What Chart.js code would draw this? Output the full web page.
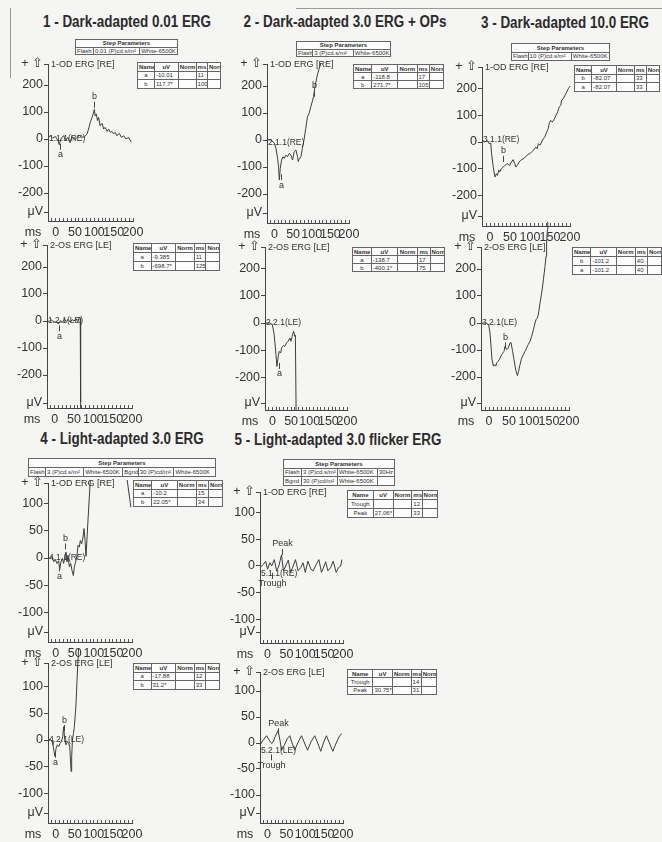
<!DOCTYPE html>
<html>
<head>
<meta charset="utf-8">
<title>ERG report</title>
<script src="https://cdn.jsdelivr.net/npm/chart.js@4.4.1/dist/chart.umd.min.js"></script>
<style>
  html, body { margin: 0; padding: 0; }
  body { width: 662px; height: 842px; position: relative; overflow: hidden; background: #f5f5f3;
         font-family: "Liberation Sans", Arial, sans-serif; color: #2b2b2b; }
  .title { position: absolute; font-weight: bold; font-size: 16px; white-space: nowrap;
           transform: translate(-50%, -50%) scaleX(0.84); }
  .tbl { position: absolute; border-collapse: collapse; table-layout: fixed; background: #fcfcfc; }
  .tbl td { border: 1px solid #666; font-size: 6px; line-height: 6px; padding: 0 1px;
            white-space: nowrap; overflow: hidden; color: #333; }
  .tbl td.h { font-weight: bold; text-align: center; }
  .tbl td.c { text-align: center; }
  canvas { position: absolute; }
  .edge { position: absolute; background: #9a9a9a; }
</style>
</head>
<body>
<script>
const FONT = '"Liberation Sans", Arial, sans-serif';

// x axis: ms
const xMinor = [-20, -10, 0, 10, 20, 30, 40, 50, 60, 70, 80, 90, 100, 110, 120, 130, 140, 150, 160, 170, 180, 190, 200];
const xTicks = [0, 50, 100, 150, 200];
// y axis: uV
const darkTicks = [-200, -100, 0, 100, 200];
const lightTicks = [-100, -50, 0, 50, 100];

// 1 - Dark-adapted 0.01
const od1Ms = [-20, -14, -8, -1, 6, 9, 14.5, 20.5, 25, 31, 37, 42, 49, 55, 61, 68, 75, 81, 85, 89.5, 94, 97, 100, 102, 105, 108, 111, 115, 120, 124, 128, 133, 137, 141, 145.5, 150, 154, 158, 164.5, 170, 176, 182, 188.6, 195.5];
const od1Uv = [6, 12, 4, 9, -6, -21, 4, 12, -6, 6, -12, 9, -4, 6, 14, 6, 9, 19, 37, 62, 80, 93, 110, 86, 93, 68, 80, 49, 58, 37, 43, 28, 37, 25, 28, 19, 25, 12, 21, 6, 12, 0, 6, -12];
const os1Ms = [-20, -15, -10, -5, 0, 5, 8, 11, 15, 20, 25, 30, 35, 40, 45, 50, 55, 60, 64, 66, 67, 68, 80, 100, 125, 150, 200];
const os1Uv = [3, -2, 5, 0, -4, -3, -10, -9, 2, -5, 8, -2, 6, -4, 5, 0, 8, -3, 15, 10, -300, -690, -700, -700, -699, -700, -700];

// 2 - Dark-adapted 3.0 + OPs
const od2Ms = [-20, -9, 0, 4, 8.5, 11, 13, 15.6, 19, 23, 26, 31, 35, 40, 44, 48.6, 53, 57.5, 62, 63.7, 66, 71, 75, 80, 84, 88.6, 93, 97.5, 102, 104.7, 109, 115, 120, 124, 130, 140, 160, 200];
const od2Uv = [2, 0, -12, -31, -68, -99, -148, -105, -74, -62, -68, -56, -62, -49, -56, -74, -43, -37, -62, -80, -72, -62, -31, 6, 43, 86, 99, 123, 145, 160, 200, 240, 265, 281, 320, 360, 380, 350];
const os2Ms = [-20, -6.6, -0.4, 4, 6.7, 9.4, 12, 15.6, 18, 22, 24.5, 29, 33, 38, 42, 47, 49.5, 53, 56.6, 60, 61.5, 64, 80, 120, 200];
const os2Uv = [0, 0, -6, -37, -73, -116, -159, -122, -104, -110, -91, -83, -85, -73, -67, -55, -67, -49, -30, -49, -45, -400, -400, -400, -400];

// 3 - Dark-adapted 10.0
const od3Ms = [-20, -13, -7.4, -2.4, 1.8, 4, 7.6, 10, 12.6, 16, 18.5, 22, 24.4, 28.5, 32.7, 37, 41, 45, 49, 53.6, 57.8, 62, 64.5, 68, 73, 79, 84.6, 89.6, 95.5, 99.7, 104, 110, 114.7, 118, 121, 125, 129, 133, 137, 141.5, 145.7, 148, 151.5, 155.7, 160, 165, 169, 173, 176.7, 179, 183, 187.5, 191.7, 196, 200];
const od3Uv = [6, 0, 6, -6, -4, -44, -88, -112, -131, -119, -125, -106, -112, -100, -94, -88, -84, -81, -88, -75, -66, -81, -94, -88, -75, -66, -62, -54, -46, -44, -37, -29, -19, -25, -6, -12, 0, 12, 19, 37, 50, 69, 81, 75, 84, 100, 112, 131, 137, 156, 162, 175, 187, 200, 209];
const os3Ms = [-20, -11.7, -6, -0.8, 2.5, 5, 7.5, 11, 13, 16.7, 19, 23, 27.5, 31.7, 37.5, 40, 44, 48, 52.5, 55, 59, 62.5, 66.7, 71, 74, 77.5, 81.7, 86, 90, 94, 98, 102.5, 106.7, 111, 115, 117.5, 121, 124, 127.5, 131.7, 136, 140, 142.5, 144, 146, 147, 150, 170, 200];
const os3Uv = [0, 0, -2, -6, -37, -86, -136, -160, -154, -160, -148, -142, -130, -117, -105, -86, -99, -93, -74, -72, -105, -136, -173, -195, -179, -154, -130, -117, -105, -93, -80, -68, -49, -25, 0, 12, 19, 37, 74, 111, 160, 210, 247, 296, 346, 383, 450, 500, 500];

// 4 - Light-adapted 3.0
const od4Ms = [-20, -14, -9.5, -5, -0.8, 3.6, 8, 10.6, 14, 17.6, 21, 23.7, 27.2, 29.8, 32.4, 35.9, 39.4, 42.9, 46.4, 49, 52.5, 56, 58.6, 62, 64.7, 68.2, 71.7, 74.3, 77, 79.6, 85, 91, 100, 120, 150, 180, 187, 197];
const od4Uv = [2, -1, 3, -7, -3, -10, -5, -21, -7, -1, -10, 2, 11, -7, 5, -16, -10, -23, -32, -16, -7, 5, 23, 20, 32, 26, 38, 54, 32, 3, 72, 145, 220, 260, 250, 200, 145, 93];
const os4Ms = [-20, -14, -9.5, -7, -4, -1.6, 1, 4.6, 8, 11.6, 15, 18.6, 21, 24, 27, 31, 34, 37, 39, 40.5, 42, 44, 46.7, 49, 53, 56, 60, 63, 70, 100, 150, 200];
const os4Uv = [0, 1, -2, -9, -22, -31, -16, -9, -12, -6, -3, 6, 25, 0, -9, -3, -6, -12, -40, -59, -31, 0, 12, 25, 62, 112, 169, 225, 300, 300, 300, 300];

// 5 - Light-adapted 3.0 flicker
const od5Ms = [-20, -11, -5, 0, 6, 11, 18, 24, 30, 37, 42, 48, 55, 61, 68, 74, 81, 88, 94, 100, 107, 115, 121, 129, 136, 143, 150, 154, 160, 167, 174, 182, 188, 194, 197];
const od5Uv = [-3, 3, 9, -6, 6, 0, 12, -9, 0, 21, -9, 0, 11, -12, 0, 12, -9, -3, 6, -12, 9, -6, -9, 3, 12, -12, 0, 8, -9, -3, 9, -12, -3, 0, 12];
const os5Ms = [-20, -12, -2.4, 4, 10.8, 15, 20, 28, 33, 37, 44, 52, 59, 65, 72, 80, 90, 98, 106, 115, 125, 133, 141, 148, 156, 164, 173, 182, 191, 197];
const os5Uv = [-4, 5, 14, 6, -1, 2, 12, 24, 5, -14, -5, 8, 14, 0, -14, 0, 14, 0, -14, 2, 14, 0, -16, 0, 14, 0, -16, 0, 14, 18];

// markers: name, ms, uV, side (1 = below, -1 = above)
const od1Marks = [['a', 11, -10, 1], ['b', 100, 108, -1]];
const os1Marks = [['a', 11, -9, 1]];
const od2Marks = [['a', 17, -119, 1], ['b', 105, 153, -1]];
const os2Marks = [['a', 17, -139, 1]];
const od3Marks = [['b', 33, -82, -1]];
const os3Marks = [['b', 40, -101, -1]];
const od4Marks = [['a', 8, -10, 1], ['b', 25, 12, -1]];
const os4Marks = [['a', -1, -18, 1], ['b', 21, 13, -1]];
const od5Marks = [['Trough', 12, -9, 1], ['Peak', 37, 17, -1]];
const os5Marks = [['Trough', 10, -18, 1], ['Peak', 28, 13, -1]];

// tables
const resultHead = ['Name', 'uV', 'Norm', 'ms', 'Norm'];
const od1Rows = [['a', '-10.01', '', '11', ''], ['b', '117.7*', '', '100', '']];
const os1Rows = [['a', '-9.385', '', '11', ''], ['b', '-698.7*', '', '125', '']];
const od2Rows = [['a', '-118.8', '', '17', ''], ['b', '271.7*', '', '105', '']];
const os2Rows = [['a', '-138.7', '', '17', ''], ['b', '-400.1*', '', '75', '']];
const od3Rows = [['b', '-82.07', '', '33', ''], ['a', '-82.07', '', '33', '']];
const os3Rows = [['b', '-101.2', '', '40', ''], ['a', '-101.2', '', '40', '']];
const od4Rows = [['a', '-10.2', '', '15', ''], ['b', '22.05*', '', '34', '']];
const os4Rows = [['a', '-17.88', '', '12', ''], ['b', '31.2*', '', '33', '']];
const od5Rows = [['Trough', '', '', '12', ''], ['Peak', '27.06*', '', '33', '']];
const os5Rows = [['Trough', '', '', '14', ''], ['Peak', '30.75*', '', '31', '']];

const step1 = [['Flash', '0.01 (P)cd.s/m²', 'White-6500K']];
const step2 = [['Flash', '3 (P)cd.s/m²', 'White-6500K']];
const step3 = [['Flash', '10 (P)cd.s/m²', 'White-6500K']];
const step4 = [['Flash', '3 (P)cd.s/m²', 'White-6500K', 'Bgnd', '30 (P)cd/m²', 'White-6500K']];
const step5 = [['Flash', '3 (P)cd.s/m²', 'White-6500K', '30Hz'], ['Bgnd', '30 (P)cd/m²', 'White-6500K', '']];

const titles = [
  ['1 - Dark-adapted 0.01 ERG', 127, 22],
  ['2 - Dark-adapted 3.0 ERG + OPs', 345, 22],
  ['3 - Dark-adapted 10.0 ERG', 565, 23],
  ['4 - Light-adapted 3.0 ERG', 122, 439],
  ['5 - Light-adapted 3.0 flicker ERG', 338, 440]
];

function addTitle(t) {
  const d = document.createElement('div');
  d.className = 'title';
  d.textContent = t[0];
  d.style.left = t[1] + 'px';
  d.style.top = t[2] + 'px';
  document.body.appendChild(d);
}

function addTable(box, colW, head, rows) {
  const t = document.createElement('table');
  t.className = 'tbl';
  t.style.left = box[0] + 'px'; t.style.top = box[1] + 'px';
  t.style.width = box[2] + 'px'; t.style.height = box[3] + 'px';
  const cg = document.createElement('colgroup');
  const sum = colW.reduce((a, b) => a + b, 0);
  colW.forEach(w => {
    const c = document.createElement('col');
    c.style.width = (100 * w / sum) + '%';
    cg.appendChild(c);
  });
  t.appendChild(cg);
  const hr = t.insertRow();
  if (typeof head === 'string') {
    const td = hr.insertCell(); td.colSpan = colW.length; td.className = 'h'; td.textContent = head;
  } else {
    head.forEach(h => { const td = hr.insertCell(); td.className = 'h'; td.textContent = h; });
  }
  rows.forEach(r => {
    const tr = t.insertRow();
    r.forEach((v, k) => {
      const td = tr.insertCell();
      td.textContent = v;
      if (k === 0 && head !== 'Step Parameters') td.className = 'c';
    });
  });
  document.body.appendChild(t);
}

titles.forEach(addTitle);

const resW = [52, 73, 55, 35, 40];
addTable([75, 39, 103, 16], [55, 140, 115], 'Step Parameters', step1);
addTable([296, 41, 95, 16], [50, 125, 115], 'Step Parameters', step2);
addTable([511, 43, 99, 18], [50, 130, 115], 'Step Parameters', step3);
addTable([28, 458, 188, 19], [50, 112, 115, 45, 105, 122], 'Step Parameters', step4);
addTable([283, 459, 112, 27], [18, 36, 40, 17], 'Step Parameters', step5);

addTable([137, 62, 84, 27], resW, resultHead, od1Rows);
addTable([133, 243, 87, 28], resW, resultHead, os1Rows);
addTable([353, 64, 91, 25], resW, resultHead, od2Rows);
addTable([352, 247, 93, 25], resW, resultHead, os2Rows);
addTable([574, 65, 86, 27], resW, resultHead, od3Rows);
addTable([572, 247, 90, 28], resW, resultHead, os3Rows);
addTable([133, 480, 90, 27], resW, resultHead, od4Rows);
addTable([133, 663, 87, 27], resW, resultHead, os4Rows);
addTable([347, 490, 91, 28], [75, 58, 55, 30, 45], resultHead, od5Rows);
addTable([347, 669, 90, 26], [75, 58, 55, 30, 45], resultHead, os5Rows);

// scan edges
[[10, 8, 1, 70], [296, 8, 366, 1]].forEach(e => {
  const d = document.createElement('div');
  d.className = 'edge';
  d.style.left = e[0] + 'px'; d.style.top = e[1] + 'px';
  d.style.width = e[2] + 'px'; d.style.height = e[3] + 'px';
  document.body.appendChild(d);
});

const panels = [
  {ms: od1Ms, uv: od1Uv, marks: od1Marks, ticks: darkTicks, head: '1-OD ERG [RE]', chan: '1.1.1(RE)',
   box: {axisX: 48, w: 85, top: 64, zero: 139, ppu: 0.27, xAxis: 221, uvY: 212, clipTop: 3, chanDy: 0}},
  {ms: os1Ms, uv: os1Uv, marks: os1Marks, ticks: darkTicks, head: '2-OS ERG [LE]', chan: '1.2.1(LE)',
   box: {axisX: 47, w: 85, top: 245, zero: 321, ppu: 0.27, xAxis: 408, uvY: 403, clipTop: 2, chanDy: 0}},
  {ms: od2Ms, uv: od2Uv, marks: od2Marks, ticks: darkTicks, head: '1-OD ERG [RE]', chan: '2.1.1(RE)',
   box: {axisX: 267, w: 82, top: 64, zero: 140, ppu: 0.27, xAxis: 223, uvY: 213, clipTop: 1, chanDy: 3}},
  {ms: os2Ms, uv: os2Uv, marks: os2Marks, ticks: darkTicks, head: '2-OS ERG [LE]', chan: '2.2.1(LE)',
   box: {axisX: 265, w: 82, top: 247, zero: 323, ppu: 0.273, xAxis: 410, uvY: 403, clipTop: 2, chanDy: 0}},
  {ms: od3Ms, uv: od3Uv, marks: od3Marks, ticks: darkTicks, head: '1-OD ERG [RE]', chan: '3.1.1(RE)',
   box: {axisX: 482, w: 88, top: 67, zero: 142, ppu: 0.267, xAxis: 226, uvY: 216, clipTop: 3, chanDy: -2}},
  {ms: os3Ms, uv: os3Uv, marks: os3Marks, ticks: darkTicks, head: '2-OS ERG [LE]', chan: '3.2.1(LE)',
   box: {axisX: 481, w: 88, top: 247, zero: 323, ppu: 0.27, xAxis: 410, uvY: 403, clipTop: 25, chanDy: 0}},
  {ms: od4Ms, uv: od4Uv, marks: od4Marks, ticks: lightTicks, head: '1-OD ERG [RE]', chan: '4.1.1(RE)',
   box: {axisX: 48, w: 84, top: 483, zero: 558, ppu: 0.546, xAxis: 642, uvY: 632, clipTop: 3, chanDy: 0}},
  {ms: os4Ms, uv: os4Uv, marks: os4Marks, ticks: lightTicks, head: '2-OS ERG [LE]', chan: '4.2.1(LE)',
   box: {axisX: 48, w: 84, top: 663, zero: 740, ppu: 0.533, xAxis: 823, uvY: 813, clipTop: 14, chanDy: 0}},
  {ms: od5Ms, uv: od5Uv, marks: od5Marks, ticks: lightTicks, head: '1-OD ERG [RE]', chan: '5.1.1(RE)',
   box: {axisX: 260, w: 83, top: 492, zero: 566, ppu: 0.533, xAxis: 643, uvY: 632, clipTop: 2, chanDy: 8}},
  {ms: os5Ms, uv: os5Uv, marks: os5Marks, ticks: lightTicks, head: '2-OS ERG [LE]', chan: '5.2.1(LE)',
   box: {axisX: 260, w: 83, top: 672, zero: 743, ppu: 0.52, xAxis: 823, uvY: 813, clipTop: 2, chanDy: 8}}
];

function labelPlugin(p) {
  return {
    id: 'ergLabels',
    afterDatasetsDraw(chart) {
      const {ctx, chartArea: a, scales: {x, y}} = chart;
      ctx.save();
      ctx.fillStyle = '#333';
      ctx.strokeStyle = '#444';
      ctx.lineWidth = 1;
      ctx.font = '9px ' + FONT;
      ctx.textBaseline = 'middle';
      ctx.textAlign = 'left';
      ctx.fillText(p.head, a.left + 3, a.top + 1);
      ctx.font = '8.5px ' + FONT;
      ctx.fillText(p.chan, a.left + 1, y.getPixelForValue(0) + p.box.chanDy);
      ctx.textAlign = 'center';
      ctx.font = '9px ' + FONT;
      p.marks.forEach(m => {
        const px = Math.round(x.getPixelForValue(m[1])) + 0.5;
        const py = y.getPixelForValue(m[2]);
        const s = m[3];
        ctx.beginPath();
        ctx.moveTo(px, py + s * 2);
        ctx.lineTo(px, py + s * 8);
        ctx.stroke();
        ctx.fillText(m[0], px, py + s * 13);
      });
      ctx.font = '12.5px ' + FONT;
      ctx.fillText('ms', a.left - 15, a.bottom + 11.5);
      ctx.restore();
    }
  };
}

panels.forEach(p => {
  const b = p.box;
  const yMax = (b.zero - b.top) / b.ppu;
  const yMin = (b.zero - b.xAxis) / b.ppu;
  const uvVal = (b.zero - b.uvY) / b.ppu;
  const padT = 30, padR = 40, yW = 46, xH = 22;
  const cw = yW + b.w + padR, ch = padT + (b.xAxis - b.top) + xH;
  const cv = document.createElement('canvas');
  cv.width = cw; cv.height = ch;
  cv.style.left = (b.axisX - yW) + 'px';
  cv.style.top = (b.top - padT) + 'px';
  cv.style.width = cw + 'px';
  cv.style.height = ch + 'px';
  document.body.appendChild(cv);
  const yVals = [uvVal].concat(p.ticks, [yMax]);

  new Chart(cv.getContext('2d'), {
    type: 'line',
    data: {
      datasets: [{
        data: p.ms.map((m, k) => ({x: m, y: p.uv[k]})),
        borderColor: '#3c3c3c',
        borderWidth: 1,
        pointRadius: 0,
        tension: 0,
        clip: {left: 2, top: b.clipTop, right: 2, bottom: 0}
      }]
    },
    options: {
      responsive: false,
      animation: false,
      events: [],
      layout: {padding: {top: padT, right: padR, left: 0, bottom: 0}},
      plugins: {legend: {display: false}, tooltip: {enabled: false}},
      scales: {
        x: {
          type: 'linear', min: -20, max: 200,
          afterBuildTicks: s => { s.ticks = xMinor.map(v => ({value: v})); },
          afterFit: s => { s.height = xH; },
          ticks: {
            autoSkip: false, maxRotation: 0, minRotation: 0, padding: 7, color: '#333',
            font: {family: FONT, size: 12.5},
            callback: v => xTicks.includes(v) ? String(v) : ''
          },
          grid: {drawOnChartArea: false, tickLength: -3, color: '#555'},
          border: {color: '#444', width: 1}
        },
        y: {
          min: yMin, max: yMax,
          afterBuildTicks: s => { s.ticks = yVals.map(v => ({value: v})); },
          afterFit: s => { s.width = yW; },
          ticks: {
            padding: 1, color: '#333',
            font: {family: FONT, size: 12.5},
            callback: (v, k) => k === 0 ? 'μV' : (k === yVals.length - 1 ? '+ ⇧' : String(v))
          },
          grid: {drawOnChartArea: false, tickLength: 4, color: '#444'},
          border: {color: '#444', width: 1}
        }
      }
    },
    plugins: [labelPlugin(p)]
  });
});
</script>
</body>
</html>
